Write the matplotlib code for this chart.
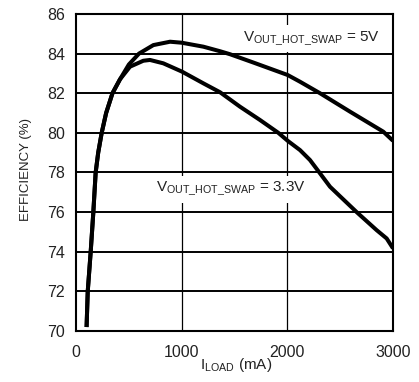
import matplotlib
matplotlib.use("Agg")
import matplotlib.pyplot as plt

plt.rcParams['font.family'] = ['Liberation Sans', 'DejaVu Sans']
plt.rcParams['mathtext.fontset'] = 'custom'
plt.rcParams['mathtext.rm'] = 'Liberation Sans'
plt.rcParams['mathtext.it'] = 'Liberation Sans'

# shared low-load rise (both outputs track together)
rise_ma = [100, 111, 139, 164, 186, 210, 243, 285, 345, 416]
rise_eff = [70.2, 72.0, 74.0, 76.0, 78.0, 79.0, 80.0, 81.0, 82.0, 82.7]

# 5V output
v5_ma = [500, 596, 732, 890, 1000, 1205, 1363, 1457, 1678, 2003, 2120, 2309, 2593, 2908, 3000]
v5_eff = [83.45, 84.0, 84.43, 84.6, 84.55, 84.35, 84.12, 83.97, 83.55, 82.92, 82.58, 82.0, 81.07, 80.06, 79.6]

# 3.3V output
v33_ma = [511, 637, 700, 826, 1003, 1205, 1363, 1552, 1741, 1915, 2003, 2120, 2214, 2303, 2404, 2656, 2845, 2940, 3000]
v33_eff = [83.34, 83.64, 83.68, 83.51, 83.09, 82.5, 82.05, 81.32, 80.65, 80.0, 79.6, 79.13, 78.63, 78.0, 77.28, 76.0, 75.09, 74.67, 74.17]

xticks = [0, 1000, 2000, 3000]
yticks = [70, 72, 74, 76, 78, 80, 82, 84, 86]

fig = plt.figure(figsize=(4.19, 3.82), dpi=100)
ax = fig.add_axes([0.1814, 0.1335, 0.7566, 0.8299])

ax.plot(rise_ma + v5_ma, rise_eff + v5_eff, color='black', lw=2.9,
        solid_capstyle='butt', solid_joinstyle='round', zorder=4)
ax.plot(rise_ma + v33_ma, rise_eff + v33_eff, color='black', lw=2.9,
        solid_capstyle='butt', solid_joinstyle='round', zorder=4)

ax.set_xlim(0, 3000)
ax.set_ylim(70, 86)
ax.set_xticks(xticks)
ax.set_yticks(yticks)
ax.tick_params(length=0, labelsize=11.5, labelcolor='#222222')
ax.tick_params(axis='y', pad=8)
ax.tick_params(axis='x', pad=10)

for y in yticks[1:-1]:
    ax.axhline(y, color='black', lw=1.4, zorder=1)
for x in xticks[1:-1]:
    ax.axvline(x, color='black', lw=0.9, zorder=1)
for s in ax.spines.values():
    s.set_linewidth(1.5)

ax.set_ylabel('EFFICIENCY (%)', fontsize=9.5, color='#222222')
ax.yaxis.set_label_coords(-0.139, 0.51)
ax.set_xlabel(r'I$_{\mathrm{LOAD}}$ (mA)', fontsize=11, color='#222222')
ax.xaxis.set_label_coords(0.505, -0.078)

box = dict(boxstyle='square,pad=0.3', facecolor='white', edgecolor='none')
ax.text(2233, 84.76, r'V$_{\mathrm{OUT\_HOT\_SWAP}}$ = 5V', fontsize=11,
        color='#222222', ha='center', va='center', bbox=box, zorder=3)
ax.text(1465, 77.15, r'V$_{\mathrm{OUT\_HOT\_SWAP}}$ = 3.3V', fontsize=11,
        color='#222222', ha='center', va='center', bbox=box, zorder=3)

fig.savefig('out.png', dpi=100)
